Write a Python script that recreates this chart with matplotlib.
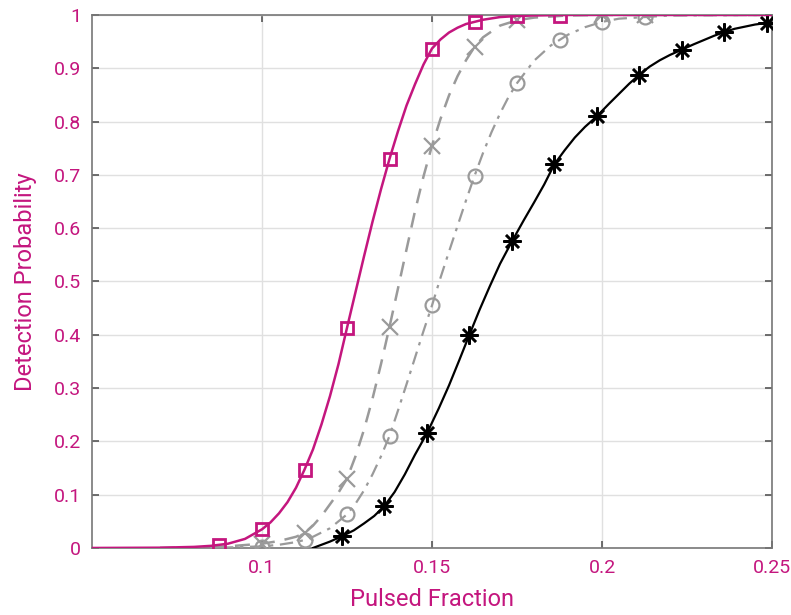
import matplotlib
matplotlib.use("Agg")
import matplotlib.pyplot as plt

MAGENTA = '#C4167E'
GRAY = '#9a9a9a'

# marker samples
sq_x = [0.0875, 0.1, 0.1125, 0.125, 0.1375, 0.15, 0.1625, 0.175, 0.1875]
sq_y = [0.005, 0.035, 0.147, 0.413, 0.73, 0.937, 0.987, 0.998, 0.998]

cross_x = [0.1, 0.1125, 0.125, 0.1375, 0.15, 0.1625, 0.175, 0.2, 0.2125]
cross_y = [0.008, 0.028, 0.13, 0.415, 0.755, 0.94, 0.99, 1.0, 1.0]

circ_x = [0.1, 0.1125, 0.125, 0.1375, 0.15, 0.1625, 0.175, 0.1875, 0.2, 0.2125]
circ_y = [0.002, 0.015, 0.063, 0.21, 0.455, 0.698, 0.872, 0.953, 0.987, 0.996]

ast_x = [0.1235, 0.1359, 0.1485, 0.161, 0.1735, 0.186, 0.1985, 0.211, 0.2235, 0.236, 0.2485]
ast_y = [0.022, 0.078, 0.215, 0.40, 0.575, 0.72, 0.81, 0.888, 0.935, 0.968, 0.985]

# curves
mag_lx = [0.05, 0.07, 0.08, 0.085, 0.09, 0.095, 0.1, 0.1025, 0.105, 0.1075, 0.11, 0.1125,
          0.115, 0.1175, 0.12, 0.1225, 0.125, 0.1275, 0.13, 0.1325, 0.135, 0.1375, 0.14,
          0.1425, 0.145, 0.1475, 0.15, 0.1525, 0.155, 0.1575, 0.16, 0.165, 0.17, 0.175,
          0.18, 0.19, 0.25]
mag_ly = [0.0, 0.0005, 0.002, 0.004, 0.008, 0.017, 0.035, 0.048, 0.065, 0.086, 0.113, 0.147,
          0.185, 0.232, 0.285, 0.345, 0.413, 0.48, 0.547, 0.612, 0.673, 0.73, 0.782,
          0.83, 0.87, 0.907, 0.937, 0.954, 0.967, 0.976, 0.983, 0.991, 0.996, 0.998,
          0.999, 1.0, 1.0]

crs_lx = [0.07, 0.08, 0.09, 0.1, 0.105, 0.11, 0.1125, 0.115, 0.1175, 0.12, 0.1225, 0.125,
          0.1275, 0.13, 0.1325, 0.135, 0.1375, 0.14, 0.1425, 0.145, 0.1475, 0.15, 0.1525,
          0.155, 0.1575, 0.16, 0.1625, 0.165, 0.17, 0.175, 0.18, 0.19, 0.2, 0.25]
crs_ly = [0.0, 0.001, 0.003, 0.008, 0.013, 0.021, 0.028, 0.042, 0.06, 0.082, 0.104, 0.13,
          0.172, 0.222, 0.28, 0.345, 0.415, 0.487, 0.56, 0.632, 0.697, 0.755, 0.805,
          0.849, 0.885, 0.915, 0.94, 0.958, 0.98, 0.99, 0.995, 0.999, 1.0, 1.0]

cir_lx = [0.07, 0.08, 0.09, 0.1, 0.105, 0.11, 0.1125, 0.115, 0.12, 0.125, 0.1275, 0.13,
          0.1325, 0.135, 0.1375, 0.14, 0.1425, 0.145, 0.1475, 0.15, 0.1525, 0.155, 0.1575,
          0.16, 0.1625, 0.165, 0.1675, 0.17, 0.1725, 0.175, 0.18, 0.185, 0.19, 0.195, 0.2,
          0.205, 0.2125, 0.22, 0.25]
cir_ly = [0.0, 0.0005, 0.001, 0.003, 0.006, 0.011, 0.015, 0.021, 0.037, 0.063, 0.083, 0.108,
          0.138, 0.172, 0.21, 0.258, 0.307, 0.357, 0.407, 0.455, 0.507, 0.556, 0.604,
          0.652, 0.698, 0.741, 0.78, 0.815, 0.846, 0.872, 0.914, 0.943, 0.963, 0.977, 0.987,
          0.993, 0.996, 0.999, 1.0]

ast_lx = [0.115, 0.12, 0.1235, 0.127, 0.13, 0.133, 0.1359, 0.139, 0.142, 0.145, 0.1485,
          0.152, 0.155, 0.158, 0.161, 0.164, 0.167, 0.17, 0.1735, 0.177, 0.18, 0.183,
          0.186, 0.189, 0.192, 0.195, 0.1985, 0.202, 0.205, 0.208, 0.211, 0.214, 0.217,
          0.22, 0.2235, 0.227, 0.23, 0.233, 0.236, 0.239, 0.242, 0.245, 0.2485, 0.25]
ast_ly = [0.0, 0.012, 0.022, 0.033, 0.046, 0.06, 0.078, 0.105, 0.138, 0.175, 0.215,
          0.262, 0.305, 0.352, 0.40, 0.447, 0.491, 0.533, 0.575, 0.615, 0.648, 0.682,
          0.72, 0.746, 0.77, 0.79, 0.81, 0.833, 0.852, 0.871, 0.888, 0.903, 0.915,
          0.925, 0.935, 0.945, 0.953, 0.961, 0.968, 0.974, 0.978, 0.982, 0.985, 0.986]

xticks = [0.1, 0.15, 0.2, 0.25]
xtick_labels = ['0.1', '0.15', '0.2', '0.25']
yticks = [0, 0.1, 0.2, 0.3, 0.4, 0.5, 0.6, 0.7, 0.8, 0.9, 1]
ytick_labels = ['0', '0.1', '0.2', '0.3', '0.4', '0.5', '0.6', '0.7', '0.8', '0.9', '1']

plt.rcParams['font.family'] = ['Roboto', 'DejaVu Sans']

fig = plt.figure(figsize=(7.91, 6.15), dpi=100)
ax = fig.add_axes([0.1163, 0.109, 0.8597, 0.8667])

ax.plot(ast_lx, ast_ly, '-', color='black', lw=1.6, zorder=3)
ax.plot(ast_x, ast_y, linestyle='none', marker=(8, 2, 0), markersize=13,
        markeredgewidth=1.8, color='black', zorder=4)

ax.plot(cir_lx, cir_ly, color=GRAY, lw=1.6, dashes=(6, 3, 1.5, 3), zorder=3)
ax.plot(circ_x, circ_y, linestyle='none', marker='o', markersize=10, markerfacecolor='none',
        markeredgewidth=1.6, color=GRAY, zorder=4)

ax.plot(crs_lx, crs_ly, color=GRAY, lw=1.8, dashes=(6, 4), zorder=3)
ax.plot(cross_x, cross_y, linestyle='none', marker='x', markersize=11,
        markeredgewidth=1.6, color=GRAY, zorder=4)

ax.plot(mag_lx, mag_ly, '-', color=MAGENTA, lw=1.8, zorder=5)
ax.plot(sq_x, sq_y, linestyle='none', marker='s', markersize=9, markerfacecolor='none',
        markeredgewidth=2.0, color=MAGENTA, zorder=6)

ax.set_xlim(0.05, 0.25)
ax.set_ylim(0, 1)
ax.set_xticks(xticks)
ax.set_xticklabels(xtick_labels)
ax.set_yticks(yticks)
ax.set_yticklabels(ytick_labels)
ax.grid(True, color='#e0e0e0', lw=1.0)
ax.set_axisbelow(True)
ax.tick_params(direction='in', length=5, width=1.2, colors='#555555',
               labelcolor=MAGENTA, labelsize=14, top=True, right=True, pad=8)
for s in ax.spines.values():
    s.set_color('#777777')
    s.set_linewidth(1.2)

ax.set_xlabel('Pulsed Fraction', color=MAGENTA, fontsize=17, labelpad=8)
ax.set_ylabel('Detection Probability', color=MAGENTA, fontsize=17, labelpad=12)

fig.savefig('out.png', dpi=100)
